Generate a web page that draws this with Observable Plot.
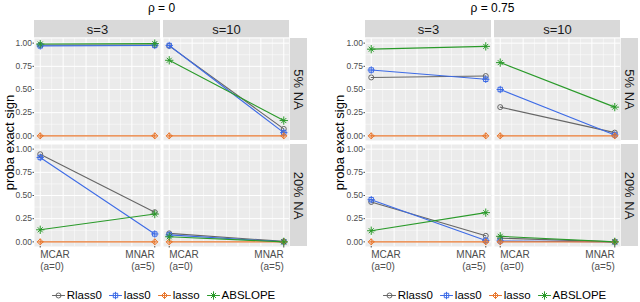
<!DOCTYPE html>
<html><head><meta charset="utf-8">
<script src="https://cdn.jsdelivr.net/npm/d3@7"></script>
<script src="https://cdn.jsdelivr.net/npm/@observablehq/plot@0.6"></script>
<style>
body{margin:0;background:#fff;font-family:"Liberation Sans",Arial,sans-serif;}
#wrap{position:relative;width:640px;height:302px;overflow:hidden;background:#fff;}
.chart{position:absolute;top:0;height:302px;}
.chart svg{position:absolute;left:0;top:0;overflow:visible;}
.title{position:absolute;top:0;height:17px;line-height:17px;font-size:12px;text-align:center;color:#000;white-space:nowrap;}
.legend{position:absolute;top:287px;height:16px;display:flex;justify-content:center;align-items:center;font-size:11.5px;color:#000;white-space:nowrap;}
.legend .item{display:flex;align-items:center;margin-right:7px;}
.legend .item:last-child{margin-right:0;}
.legend .item svg{position:static;}
.legend .item span{margin-left:3px;}
</style>
</head><body>
<div id="wrap"></div>
<script>
// ---- data ----
const rhoLevels = ["ρ = 0", "ρ = 0.75"];
const sLevels = ["s=3", "s=10"];
const naLevels = ["5% NA", "20% NA"];
const methods = ["Rlass0", "lass0", "lasso", "ABSLOPE"];
const aValues = [0, 5];
const tickLabels = ["MCAR\n(a=0)", "MNAR\n(a=5)"];
const yTicks = [0, 0.25, 0.5, 0.75, 1];
const yMinor = [0.125, 0.375, 0.625, 0.875];
const xMajor = [0, 1, 2, 3, 4, 5];
const xMinor = [0.5, 1.5, 2.5, 3.5, 4.5];
// order: rho0 [s3 5%, s10 5%, s3 20%, s10 20%], rho0.75 [same]; each MCAR, MNAR
const Rlass0  = [0.98,0.98, 0.97,0.075, 0.945,0.32, 0.092,0.005, 0.63,0.645, 0.31,0.035, 0.43,0.065, 0.04,0.0];
const lass0   = [0.97,0.975, 0.975,0.035, 0.91,0.085, 0.075,0.0, 0.71,0.61, 0.50,0.01, 0.455,0.015, 0.01,0.0];
const lasso   = [0,0, 0,0, 0,0, 0,0, 0,0, 0,0, 0,0, 0,0];
const ABSLOPE = [0.99,0.995, 0.815,0.165, 0.13,0.30, 0.055,0.0, 0.935,0.965, 0.79,0.31, 0.12,0.315, 0.06,0.0];
const seriesValues = {Rlass0, lass0, lasso, ABSLOPE};
const colors = ["#666666", "#3D6BE6", "#E8772E", "#2A9A2A"];

const rows = [];
methods.forEach(m => {
  rhoLevels.forEach((rho, ri) => naLevels.forEach((na, ni) => sLevels.forEach((s, si) => aValues.forEach((a, ai) => {
    rows.push({method: m, rho, s, na, a, value: seriesValues[m][ri*8 + ni*4 + si*2 + ai]});
  }))));
});

const colorOf = m => colors[methods.indexOf(m)];

function symbolMarks(data, m, o) {
  const c = colorOf(m);
  const base = {...o, stroke: c, fill: "none", strokeWidth: 1};
  if (m === "Rlass0") return [Plot.dot(data, {...base, symbol: "circle", r: 2.5})];
  if (m === "lass0") return [Plot.dot(data, {...base, symbol: "square", r: 2.5}), Plot.dot(data, {...base, symbol: "plus", r: 2.5})];
  if (m === "lasso") return [Plot.dot(data, {...base, symbol: "diamond2", r: 2.7}), Plot.dot(data, {...base, symbol: "plus", r: 2.3})];
  return [Plot.dot(data, {...base, symbol: "plus", r: 2.8}), Plot.dot(data, {...base, symbol: "times", r: 2.4})];
}

const wrap = document.getElementById("wrap");

function makeChart(ri, left, width, marginRight, yTitleDx) {
  const data = rows.filter(d => d.rho === rhoLevels[ri]);
  const H = 284, mt = 38, mb = 37, ml = 33;
  const pY = 0.034, pX = 0.023;
  const bwY = (H - mt - mb) / (2 - pY) * (1 - pY);
  const bwX = (width - ml - marginRight) / (2 - pX) * (1 - pX);
  const stripsTop = sLevels.map(s => ({s, na: naLevels[0]}));
  const stripsRight = naLevels.map(na => ({s: sLevels[1], na}));
  const fxy = {fx: "s", fy: "na"};
  const pt = {...fxy, x: "a", y: "value"};

  const plot = Plot.plot({
    width, height: H, marginTop: mt, marginBottom: mb, marginLeft: ml, marginRight,
    style: {fontFamily: '"Liberation Sans", Arial, sans-serif', background: "transparent", overflow: "visible"},
    fx: {domain: sLevels, paddingInner: pX, paddingOuter: 0, axis: null, label: null},
    fy: {domain: naLevels, paddingInner: pY, paddingOuter: 0, axis: null, label: null},
    x: {domain: [-0.25, 5.25], label: null},
    y: {domain: [-0.05, 1.05], label: null},
    marks: [
      Plot.frame({fill: "#EBEBEB", stroke: "none"}),
      Plot.gridX(xMinor, {stroke: "#fff", strokeOpacity: 1, strokeWidth: 0.5}),
      Plot.gridY(yMinor, {stroke: "#fff", strokeOpacity: 1, strokeWidth: 0.5}),
      Plot.gridX(xMajor, {stroke: "#fff", strokeOpacity: 1, strokeWidth: 1}),
      Plot.gridY(yTicks, {stroke: "#fff", strokeOpacity: 1, strokeWidth: 1}),
      Plot.rect(stripsTop, {...fxy, fill: "#D9D9D9", insetTop: -18, insetBottom: bwY}),
      Plot.text(stripsTop, {...fxy, text: "s", frameAnchor: "top", dy: -9, lineAnchor: "middle", textAnchor: "middle", fontSize: 13, fill: "#1A1A1A"}),
      Plot.rect(stripsRight, {...fxy, fill: "#D9D9D9", insetLeft: bwX, insetRight: -18}),
      Plot.text(stripsRight, {...fxy, text: "na", frameAnchor: "right", dx: 9, rotate: 90, lineAnchor: "middle", textAnchor: "middle", fontSize: 13, fill: "#1A1A1A"}),
      Plot.axisY(yTicks, {tickFormat: d => d.toFixed(2), tickSize: 1.5, tickPadding: 1, fontSize: 8.5, color: "#4D4D4D", label: null}),
      Plot.axisX([aValues[0]], {tickFormat: () => tickLabels[0], textAnchor: "start", tickSize: 1.5, tickPadding: 0.5, fontSize: 10, lineHeight: 1.27, color: "#4D4D4D", label: null}),
      Plot.axisX([aValues[1]], {tickFormat: () => tickLabels[1], textAnchor: "end", tickSize: 1.5, tickPadding: 0.5, fontSize: 10, lineHeight: 1.27, color: "#4D4D4D", label: null}),
      Plot.text(["proba exact sign"], {facet: "super", frameAnchor: "left", dx: yTitleDx, rotate: -90, textAnchor: "middle", lineAnchor: "middle", fontSize: 13, fill: "#000"}),
      Plot.line(data, {...pt, z: "method", stroke: d => colorOf(d.method), strokeWidth: 1.1}),
      ...methods.flatMap(m => symbolMarks(data.filter(d => d.method === m), m, pt))
    ]
  });

  const div = document.createElement("div");
  div.className = "chart";
  div.style.left = left + "px";
  div.style.width = width + "px";
  div.appendChild(plot);

  const title = document.createElement("div");
  title.className = "title";
  title.style.left = ml + "px";
  title.style.width = (width - ml - marginRight) + "px";
  title.textContent = rhoLevels[ri];
  div.appendChild(title);

  const legend = document.createElement("div");
  legend.className = "legend";
  legend.style.left = (ml + 2) + "px";
  legend.style.width = (width - ml - marginRight) + "px";
  methods.forEach(m => {
    const item = document.createElement("div");
    item.className = "item";
    const sw = Plot.plot({
      width: 12, height: 12, margin: 0,
      x: {domain: [0, 1], axis: null}, y: {domain: [0, 1], axis: null},
      style: {background: "transparent", overflow: "visible"},
      marks: [
        Plot.line([{x: 0, y: 0.5}, {x: 1, y: 0.5}], {x: "x", y: "y", stroke: colorOf(m), strokeWidth: 1.1}),
        ...symbolMarks([{x: 0.5, y: 0.5}], m, {x: "x", y: "y"})
      ]
    });
    item.appendChild(sw);
    const sp = document.createElement("span");
    sp.textContent = m;
    item.appendChild(sp);
    legend.appendChild(item);
  });
  div.appendChild(legend);
  wrap.appendChild(div);
}

makeChart(0, 0, 331, 41, -25);
makeChart(1, 331, 309, 19, -26);
</script>
</body></html>
